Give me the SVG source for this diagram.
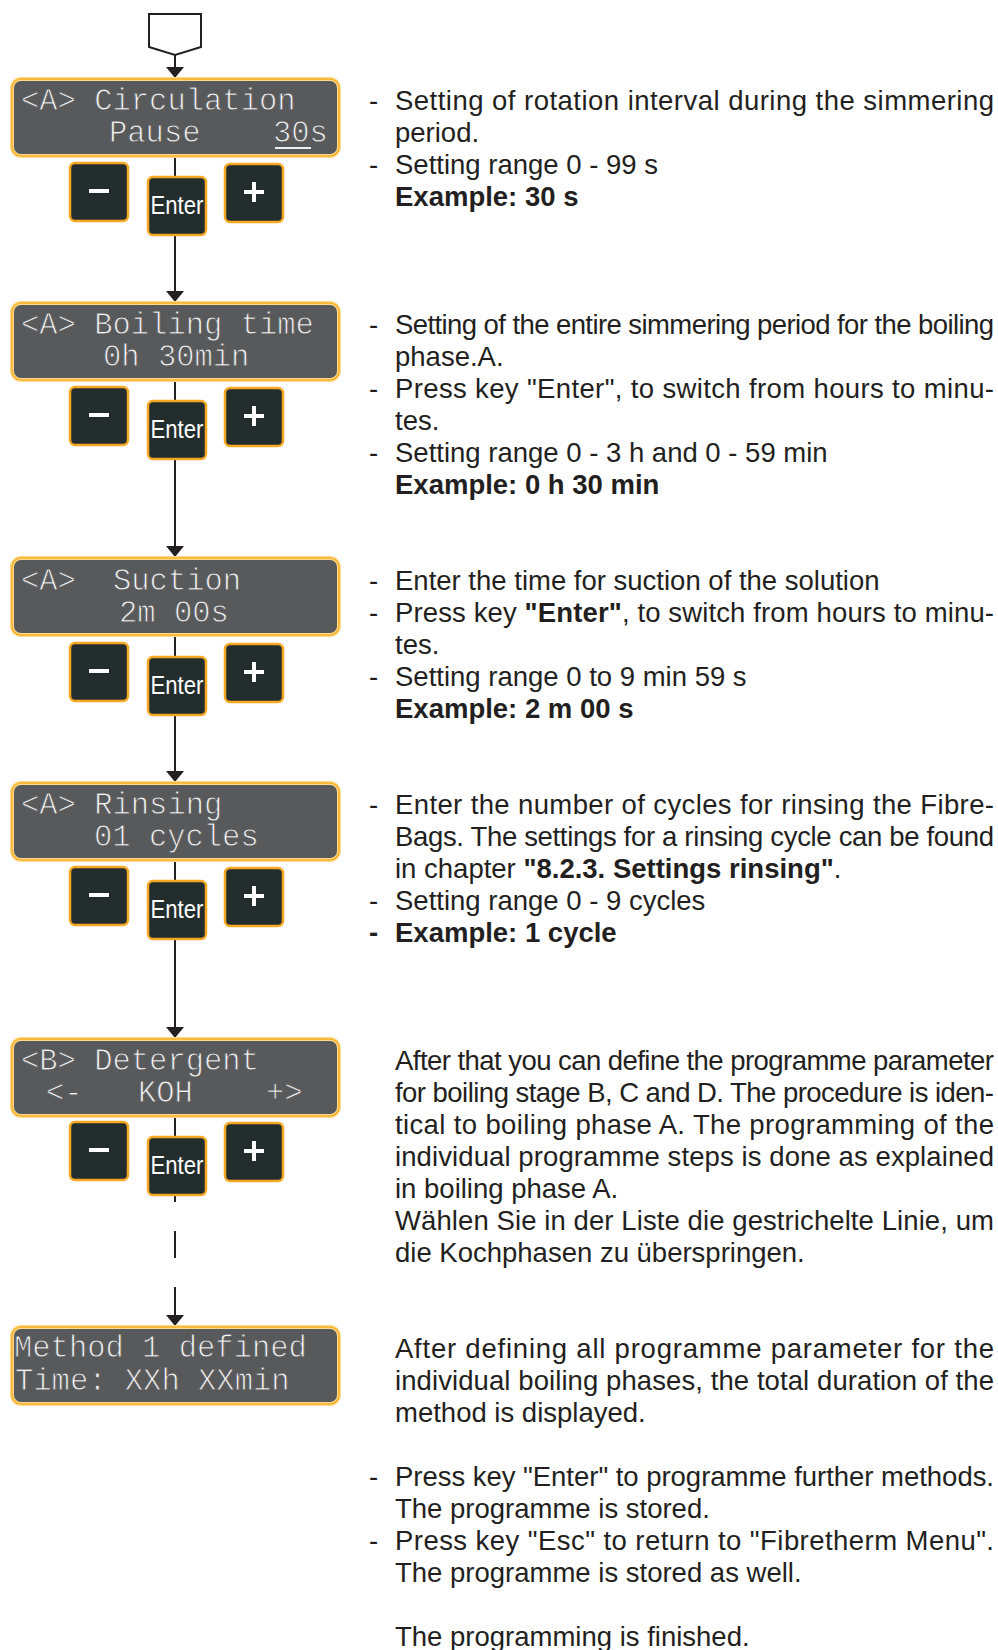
<svg xmlns="http://www.w3.org/2000/svg" xmlns:xlink="http://www.w3.org/1999/xlink" width="998" height="1650" viewBox="0 0 998 1650">
<style>
.disp-outer{fill:#58595b;stroke:#fdd98a;stroke-width:4}
.disp-inner{fill:none;stroke:#f7b02c;stroke-width:1.5}
.lcd{font-family:"Liberation Mono","Courier New",monospace;font-size:30.5px;fill:#f2f2f2;stroke:#58595b;stroke-width:0.9}
.btn{fill:#232d2d;stroke:#f7a823;stroke-width:2.5}
.glyph{fill:#ffffff}
.enter{font-family:"Liberation Sans",Arial,sans-serif;font-size:25px;fill:#ffffff}
.conn{stroke:#231f20;stroke-width:2;fill:none}
.t{font-family:"Liberation Sans",Arial,sans-serif;font-size:27.5px;fill:#231f20}
.b{font-weight:bold}
</style>
<defs>
<marker id="arrow" markerUnits="userSpaceOnUse" markerWidth="12" markerHeight="20" viewBox="0 -10 12 20" refX="11" refY="0" orient="auto">
<path d="M0,-9 L11,0 L0,9 z" fill="#231f20"/>
</marker>
<g id="btn-minus"><rect class="btn" x="1" y="1" width="58" height="58" rx="5"/><rect class="glyph" x="20" y="27" width="20" height="4"/></g>
<g id="btn-plus"><rect class="btn" x="1" y="1" width="58" height="58" rx="5"/><rect class="glyph" x="20" y="27" width="20" height="4"/><rect class="glyph" x="28" y="19" width="4" height="20"/></g>
<g id="btn-enter"><rect class="btn" x="1" y="1" width="58" height="58" rx="5"/><text class="enter" x="30" y="38" text-anchor="middle" textLength="53" lengthAdjust="spacingAndGlyphs">Enter</text></g>
</defs>

<g id="connectors">
<path class="conn" d="M175,55 V78" marker-end="url(#arrow)"/>
<path class="conn" d="M175,156 V302" marker-end="url(#arrow)"/>
<path class="conn" d="M175,380 V557" marker-end="url(#arrow)"/>
<path class="conn" d="M175,635 V782" marker-end="url(#arrow)"/>
<path class="conn" d="M175,860 V1038" marker-end="url(#arrow)"/>
<path class="conn" d="M175,1116 V1202 M175,1231 V1258 M175,1287 V1326" marker-end="url(#arrow)"/>
</g>

<g id="start">
<polygon points="149,14 201,14 201,47 175,55 149,47" fill="#ffffff" stroke="#231f20" stroke-width="2"/>
</g>

<g id="step1">
<g id="step1-display">
<rect class="disp-outer" x="12" y="79" width="327" height="77" rx="9"/>
<rect class="disp-inner" x="12" y="79" width="327" height="77" rx="9"/>
<text class="lcd" x="21" y="110">&lt;A&gt; Circulation</text>
<text class="lcd" x="109" y="142">Pause</text>
<text class="lcd" x="273" y="142">30s</text>
<line x1="275" y1="148" x2="311" y2="148" stroke="#efefef" stroke-width="2"/>
</g>
<use xlink:href="#btn-minus" x="69" y="162"/>
<use xlink:href="#btn-enter" x="147" y="176"/>
<use xlink:href="#btn-plus" x="224" y="163"/>
</g>

<g id="step2">
<g id="step2-display">
<rect class="disp-outer" x="12" y="303" width="327" height="77" rx="9"/>
<rect class="disp-inner" x="12" y="303" width="327" height="77" rx="9"/>
<text class="lcd" x="21" y="334">&lt;A&gt; Boiling time</text>
<text class="lcd" x="103" y="366">0h 30min</text>
</g>
<use xlink:href="#btn-minus" x="69" y="386"/>
<use xlink:href="#btn-enter" x="147" y="400"/>
<use xlink:href="#btn-plus" x="224" y="387"/>
</g>

<g id="step3">
<g id="step3-display">
<rect class="disp-outer" x="12" y="558" width="327" height="77" rx="9"/>
<rect class="disp-inner" x="12" y="558" width="327" height="77" rx="9"/>
<text class="lcd" x="21" y="590">&lt;A&gt;</text>
<text class="lcd" x="113" y="590">Suction</text>
<text class="lcd" x="119" y="622">2m 00s</text>
</g>
<use xlink:href="#btn-minus" x="69" y="642"/>
<use xlink:href="#btn-enter" x="147" y="656"/>
<use xlink:href="#btn-plus" x="224" y="643"/>
</g>

<g id="step4">
<g id="step4-display">
<rect class="disp-outer" x="12" y="783" width="327" height="77" rx="9"/>
<rect class="disp-inner" x="12" y="783" width="327" height="77" rx="9"/>
<text class="lcd" x="21" y="814">&lt;A&gt; Rinsing</text>
<text class="lcd" x="94" y="846">01 cycles</text>
</g>
<use xlink:href="#btn-minus" x="69" y="866"/>
<use xlink:href="#btn-enter" x="147" y="880"/>
<use xlink:href="#btn-plus" x="224" y="867"/>
</g>

<g id="step5">
<g id="step5-display">
<rect class="disp-outer" x="12" y="1039" width="327" height="77" rx="9"/>
<rect class="disp-inner" x="12" y="1039" width="327" height="77" rx="9"/>
<text class="lcd" x="21" y="1070">&lt;B&gt; Detergent</text>
<text class="lcd" x="46" y="1102">&lt;-</text>
<text class="lcd" x="138" y="1102">KOH</text>
<text class="lcd" x="266" y="1102">+&gt;</text>
</g>
<use xlink:href="#btn-minus" x="69" y="1121"/>
<use xlink:href="#btn-enter" x="147" y="1136"/>
<use xlink:href="#btn-plus" x="224" y="1122"/>
</g>

<g id="step6">
<rect class="disp-outer" x="12" y="1327" width="327" height="77" rx="9"/>
<rect class="disp-inner" x="12" y="1327" width="327" height="77" rx="9"/>
<text class="lcd" x="14" y="1357">Method 1 defined</text>
<text class="lcd" x="15" y="1390">Time: XXh XXmin</text>
</g>

<g id="descriptions">
<g id="desc1">
<text class="t" x="369" y="110">-</text>
<text class="t" x="395" y="110" textLength="599" lengthAdjust="spacing">Setting of rotation interval during the simmering</text>
<text class="t" x="395" y="142">period.</text>
<text class="t" x="369" y="174">-</text>
<text class="t" x="395" y="174">Setting range 0 - 99 s</text>
<text class="t b" x="395" y="206">Example: 30 s</text>
</g>
<g id="desc2">
<text class="t" x="369" y="334">-</text>
<text class="t" x="395" y="334" textLength="599" lengthAdjust="spacing">Setting of the entire simmering period for the boiling</text>
<text class="t" x="395" y="366">phase.A.</text>
<text class="t" x="369" y="398">-</text>
<text class="t" x="395" y="398" textLength="599" lengthAdjust="spacing">Press key "Enter", to switch from hours to minu-</text>
<text class="t" x="395" y="430">tes.</text>
<text class="t" x="369" y="462">-</text>
<text class="t" x="395" y="462">Setting range 0 - 3 h and 0 - 59 min</text>
<text class="t b" x="395" y="494">Example: 0 h 30 min</text>
</g>
<g id="desc3">
<text class="t" x="369" y="590">-</text>
<text class="t" x="395" y="590">Enter the time for suction of the solution</text>
<text class="t" x="369" y="622">-</text>
<text class="t" x="395" y="622" textLength="599" lengthAdjust="spacing">Press key <tspan class="b">"Enter"</tspan>, to switch from hours to minu-</text>
<text class="t" x="395" y="654">tes.</text>
<text class="t" x="369" y="686">-</text>
<text class="t" x="395" y="686">Setting range 0 to 9 min 59 s</text>
<text class="t b" x="395" y="718">Example: 2 m 00 s</text>
</g>
<g id="desc4">
<text class="t" x="369" y="814">-</text>
<text class="t" x="395" y="814" textLength="599" lengthAdjust="spacing">Enter the number of cycles for rinsing the Fibre-</text>
<text class="t" x="395" y="846" textLength="599" lengthAdjust="spacing">Bags. The settings for a rinsing cycle can be found</text>
<text class="t" x="395" y="878">in chapter <tspan class="b">"8.2.3. Settings rinsing"</tspan>.</text>
<text class="t" x="369" y="910">-</text>
<text class="t" x="395" y="910">Setting range 0 - 9 cycles</text>
<text class="t b" x="369" y="942">-</text>
<text class="t b" x="395" y="942">Example: 1 cycle</text>
</g>
<g id="desc5">
<text class="t" x="395" y="1070" textLength="599" lengthAdjust="spacing">After that you can define the programme parameter</text>
<text class="t" x="395" y="1102" textLength="599" lengthAdjust="spacing">for boiling stage B, C and D. The procedure is iden-</text>
<text class="t" x="395" y="1134" textLength="599" lengthAdjust="spacing">tical to boiling phase A. The programming of the</text>
<text class="t" x="395" y="1166" textLength="599" lengthAdjust="spacing">individual programme steps is done as explained</text>
<text class="t" x="395" y="1198">in boiling phase A.</text>
<text class="t" x="395" y="1230" textLength="599" lengthAdjust="spacing">Wählen Sie in der Liste die gestrichelte Linie, um</text>
<text class="t" x="395" y="1262">die Kochphasen zu überspringen.</text>
</g>
<g id="desc6">
<text class="t" x="395" y="1358" textLength="599" lengthAdjust="spacing">After defining all programme parameter for the</text>
<text class="t" x="395" y="1390" textLength="599" lengthAdjust="spacing">individual boiling phases, the total duration of the</text>
<text class="t" x="395" y="1422">method is displayed.</text>
</g>
<g id="desc7">
<text class="t" x="369" y="1486">-</text>
<text class="t" x="395" y="1486" textLength="599" lengthAdjust="spacing">Press key "Enter" to programme further methods.</text>
<text class="t" x="395" y="1518">The programme is stored.</text>
<text class="t" x="369" y="1550">-</text>
<text class="t" x="395" y="1550" textLength="599" lengthAdjust="spacing">Press key "Esc" to return to "Fibretherm Menu".</text>
<text class="t" x="395" y="1582">The programme is stored as well.</text>
</g>
<g id="desc8">
<text class="t" x="395" y="1646">The programming is finished.</text>
</g>
</g>
</svg>
